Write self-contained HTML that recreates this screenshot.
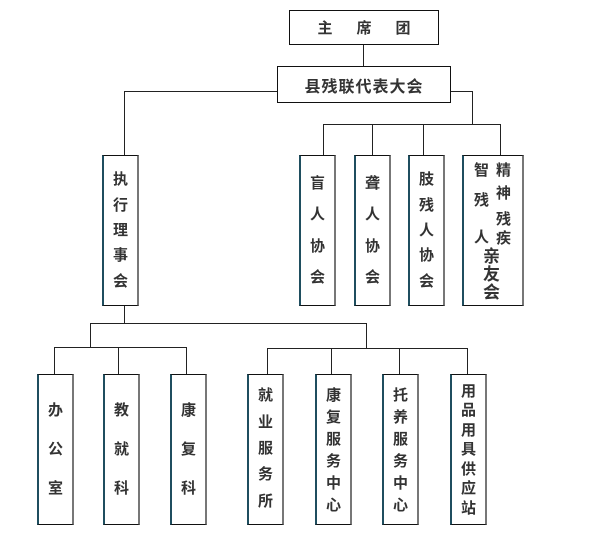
<!DOCTYPE html>
<html><head><meta charset="utf-8"><style>
body{margin:0;width:600px;height:541px;background:#fff;position:relative;overflow:hidden;font-family:"Liberation Sans","Noto Sans CJK SC","WenQuanYi Zen Hei",sans-serif;}
.l{position:absolute;background:#222;}
.b{position:absolute;box-sizing:border-box;background:#fff;border-top:1.5px solid #111;border-bottom:1.5px solid #111;border-left:2px solid #1f4e5f;border-right:2.5px solid #777;}
.v{display:flex;flex-direction:column;align-items:center;justify-content:space-evenly;font-weight:bold;font-size:15px;color:#333;line-height:1;}
.t{position:absolute;font-weight:bold;color:#333;font-size:15px;line-height:1;}
</style></head><body>
<div class="l" style="left:363px;top:44px;width:1px;height:22px"></div>
<div class="l" style="left:124px;top:91px;width:154px;height:1px"></div>
<div class="l" style="left:124px;top:91px;width:1px;height:64px"></div>
<div class="l" style="left:450px;top:91px;width:22px;height:1px"></div>
<div class="l" style="left:472px;top:91px;width:1px;height:33px"></div>
<div class="l" style="left:323px;top:124px;width:178px;height:1px"></div>
<div class="l" style="left:323px;top:124px;width:1px;height:31px"></div>
<div class="l" style="left:372px;top:124px;width:1px;height:31px"></div>
<div class="l" style="left:423px;top:124px;width:1px;height:31px"></div>
<div class="l" style="left:500px;top:124px;width:1px;height:31px"></div>
<div class="l" style="left:124px;top:305px;width:1px;height:18px"></div>
<div class="l" style="left:90px;top:323px;width:277px;height:1px"></div>
<div class="l" style="left:90px;top:323px;width:1px;height:24px"></div>
<div class="l" style="left:54px;top:347px;width:133px;height:1px"></div>
<div class="l" style="left:54px;top:347px;width:1px;height:27px"></div>
<div class="l" style="left:118px;top:347px;width:1px;height:27px"></div>
<div class="l" style="left:186px;top:347px;width:1px;height:27px"></div>
<div class="l" style="left:366px;top:323px;width:1px;height:25px"></div>
<div class="l" style="left:267px;top:348px;width:201px;height:1px"></div>
<div class="l" style="left:267px;top:348px;width:1px;height:26px"></div>
<div class="l" style="left:331px;top:348px;width:1px;height:26px"></div>
<div class="l" style="left:399px;top:348px;width:1px;height:26px"></div>
<div class="l" style="left:467px;top:348px;width:1px;height:26px"></div>
<div class="b" style="left:289px;top:10px;width:150px;height:35px;border:1.5px solid #111;display:flex;align-items:center;justify-content:center;font-weight:bold;font-size:15px;color:#333;letter-spacing:24px;padding-left:24px">主席团</div>
<div class="b" style="left:277px;top:66px;width:174px;height:37px;border:1.5px solid #111;display:flex;align-items:center;justify-content:center;font-weight:bold;font-size:16px;color:#333;letter-spacing:1px">县残联代表大会</div>
<div class="b v" style="left:102px;top:155px;width:37px;height:151px;padding:6px 0"><span>执</span><span>行</span><span>理</span><span>事</span><span>会</span></div>
<div class="b v" style="left:299px;top:155px;width:37px;height:151px;padding:4px 0"><span>盲</span><span>人</span><span>协</span><span>会</span></div>
<div class="b v" style="left:354px;top:155px;width:37px;height:151px;padding:4px 0"><span>聋</span><span>人</span><span>协</span><span>会</span></div>
<div class="b v" style="left:408px;top:155px;width:37px;height:151px;padding:6px 0"><span>肢</span><span>残</span><span>人</span><span>协</span><span>会</span></div>
<div class="b" style="left:462px;top:155px;width:62px;height:151px"></div>
<span class="t" style="left:474px;top:163px">智</span>
<span class="t" style="left:474px;top:193px">残</span>
<span class="t" style="left:474px;top:230px">人</span>
<span class="t" style="left:496px;top:163px">精</span>
<span class="t" style="left:496px;top:186px">神</span>
<span class="t" style="left:496px;top:212px">残</span>
<span class="t" style="left:496px;top:231px">疾</span>
<span class="t" style="left:483px;top:248px;font-size:17px">亲</span>
<span class="t" style="left:483px;top:266px;font-size:17px">友</span>
<span class="t" style="left:483px;top:284px;font-size:17px">会</span>
<div class="b v" style="left:37px;top:374px;width:37px;height:151px;padding:4px 0"><span>办</span><span>公</span><span>室</span></div>
<div class="b v" style="left:103px;top:374px;width:37px;height:151px;padding:4px 0"><span>教</span><span>就</span><span>科</span></div>
<div class="b v" style="left:170px;top:374px;width:37px;height:151px;padding:4px 0"><span>康</span><span>复</span><span>科</span></div>
<div class="b v" style="left:247px;top:374px;width:37px;height:151px;padding:2px 0 4px"><span>就</span><span>业</span><span>服</span><span>务</span><span>所</span></div>
<div class="b v" style="left:315px;top:374px;width:37px;height:151px;padding:6px 0 4px"><span>康</span><span>复</span><span>服</span><span>务</span><span>中</span><span>心</span></div>
<div class="b v" style="left:382px;top:374px;width:37px;height:151px;padding:6px 0 4px"><span>托</span><span>养</span><span>服</span><span>务</span><span>中</span><span>心</span></div>
<div class="b v" style="left:450px;top:374px;width:37px;height:151px;padding:4px 0 4px"><span>用</span><span>品</span><span>用</span><span>具</span><span>供</span><span>应</span><span>站</span></div>
</body></html>
